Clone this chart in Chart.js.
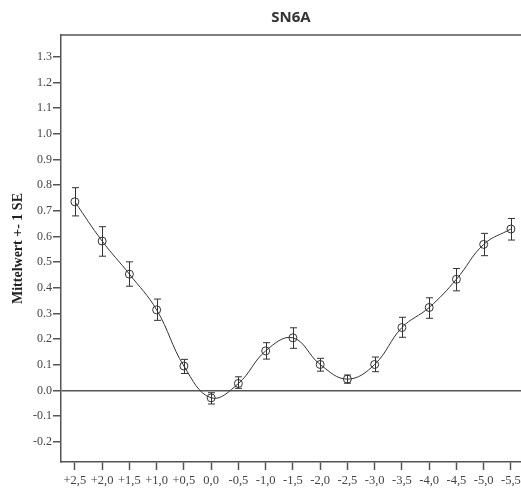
<!DOCTYPE html>
<html>
<head>
<meta charset="utf-8">
<script src="https://cdn.jsdelivr.net/npm/chart.js@4/dist/chart.umd.min.js"></script>
<style>
  html, body { margin: 0; padding: 0; background: #fff; }
  #wrap { width: 521px; height: 488px; position: relative; }
</style>
</head>
<body>
<div id="wrap"><canvas id="chart"></canvas></div>
<script>
// SN6A — mean +- 1 SE per condition
const xLabels = ['+2,5','+2,0','+1,5','+1,0','+0,5','0,0','-0,5','-1,0','-1,5','-2,0','-2,5','-3,0','-3,5','-4,0','-4,5','-5,0','-5,5'];
const means   = [0.735, 0.582, 0.453, 0.314, 0.095, -0.029, 0.027, 0.154, 0.205, 0.101, 0.044, 0.101, 0.245, 0.323, 0.433, 0.569, 0.629];
const upper   = [0.790, 0.638, 0.501, 0.356, 0.121, -0.009, 0.053, 0.186, 0.244, 0.125, 0.060, 0.130, 0.285, 0.361, 0.475, 0.612, 0.670];
const lower   = [0.680, 0.523, 0.406, 0.273, 0.066, -0.053, 0.008, 0.122, 0.164, 0.075, 0.028, 0.073, 0.207, 0.281, 0.388, 0.525, 0.586];
const yTicks  = [-0.2, -0.1, 0.0, 0.1, 0.2, 0.3, 0.4, 0.5, 0.6, 0.7, 0.8, 0.9, 1.0, 1.1, 1.2, 1.3];

const axisColor = '#555';
const inkColor  = '#333';
const serif = '"Liberation Serif", "DejaVu Serif", serif';

// error bars + top frame line
const errorBars = {
  id: 'errorBars',
  afterDatasetsDraw(chart){
    const ctx = chart.ctx;
    const xs = chart.scales.x, ys = chart.scales.y;
    const area = chart.chartArea;
    ctx.save();
    ctx.strokeStyle = axisColor;
    ctx.lineWidth = 1.5;
    ctx.beginPath();
    ctx.moveTo(area.left, area.top);
    ctx.lineTo(area.right, area.top);
    ctx.stroke();

    ctx.strokeStyle = inkColor;
    ctx.lineWidth = 1;
    const cap = 3.5;
    for(let i=0;i<means.length;i++){
      const x = Math.round(xs.getPixelForValue(i)) + 0.5;
      const yHi = ys.getPixelForValue(upper[i]);
      const yLo = ys.getPixelForValue(lower[i]);
      ctx.beginPath();
      ctx.moveTo(x, yHi); ctx.lineTo(x, yLo);
      ctx.moveTo(x-cap, yHi); ctx.lineTo(x+cap, yHi);
      ctx.moveTo(x-cap, yLo); ctx.lineTo(x+cap, yLo);
      ctx.stroke();
    }
    ctx.restore();
  }
};

new Chart(document.getElementById('chart'), {
  type: 'line',
  data: {
    datasets: [{
      data: means.map((v,i)=>({x:i, y:v})),
      borderColor: inkColor,
      borderWidth: 1,
      tension: 0.4,
      pointRadius: 4,
      pointBorderWidth: 1,
      pointBorderColor: inkColor,
      pointBackgroundColor: 'rgba(0,0,0,0)',
      fill: false
    }]
  },
  options: {
    responsive: true, maintainAspectRatio: false, animation: false,
    layout: { padding: 0, autoPadding: false },
    plugins: {
      legend: { display: false },
      tooltip: { enabled: false },
      title: {
        display: true, text: 'SN6A', fullSize: false,
        color: '#333',
        font: { family: '"Open Sans", sans-serif', size: 15, weight: 'bold', lineHeight: 1.2 },
        padding: { top: 9, bottom: 8 }
      }
    },
    scales: {
      x: {
        type: 'linear', min: -0.51, max: 16.37,
        afterBuildTicks: s => { s.ticks = xLabels.map((_,i)=>({value:i})); },
        afterFit: s => { s.height = 26; s.paddingLeft = 0; s.paddingRight = 0; },
        border: { display: true, color: axisColor, width: 1.5 },
        grid: { drawOnChartArea: false, drawTicks: true, tickLength: 8, color: axisColor, tickWidth: 1.5 },
        ticks: {
          padding: 3, color: '#444', maxRotation: 0, autoSkip: false,
          font: { family: serif, size: 12.5 },
          callback: v => xLabels[v]
        }
      },
      y: {
        min: -0.279, max: 1.385,
        afterBuildTicks: s => { s.ticks = yTicks.map(v=>({value:v})); },
        afterFit: s => { s.width = 61; s.paddingTop = 0; s.paddingBottom = 0; },
        border: { display: true, color: axisColor, width: 1.5 },
        grid: {
          drawTicks: true, tickLength: 8, tickColor: axisColor, tickWidth: 1.5,
          lineWidth: 1.5,
          color: c => (c.tick && Math.abs(c.tick.value) < 1e-9) ? axisColor : 'rgba(0,0,0,0)'
        },
        ticks: {
          padding: 1, color: '#444',
          font: { family: serif, size: 12 },
          callback: v => v.toFixed(1)
        },
        title: {
          display: true, text: 'Mittelwert +- 1 SE', color: '#222',
          font: { family: serif, size: 14, weight: 'bold', lineHeight: 1.2 },
          padding: { top: 9.6, bottom: 0 }
        }
      }
    }
  },
  plugins: [errorBars]
});
</script>
</body>
</html>
